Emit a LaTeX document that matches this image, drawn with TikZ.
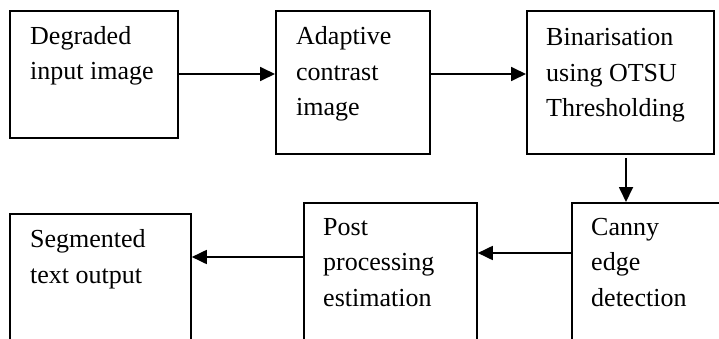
\documentclass[tikz,border=0pt]{standalone}
\usepackage{fontspec}
\setmainfont{Liberation Serif}
\usetikzlibrary{arrows.meta}
\begin{document}
\begin{tikzpicture}[x=1pt,y=-1pt,
  box/.style={draw,line width=1.8pt,rectangle,inner sep=0pt,anchor=north west},
  lbl/.style={anchor=base west,inner sep=0pt,align=left,font=\fontsize{26}{35.5}\selectfont},
  conn/.style={line width=1.8pt,-{Triangle[length=15pt,width=14pt]}}]
\useasboundingbox (0,0) rectangle (719,339);
% boxes
\node[box,minimum width=168pt,minimum height=127pt] (b1) at (9,10) {};
\node[box,minimum width=154pt,minimum height=143pt] (b2) at (275,10) {};
\node[box,minimum width=187pt,minimum height=143pt] (b3) at (526,10) {};
\node[box,minimum width=190pt,minimum height=160pt] (b4) at (571,202) {};
\node[box,minimum width=173pt,minimum height=160pt] (b5) at (303,202) {};
\node[box,minimum width=181pt,minimum height=150pt] (b6) at (9,213) {};
% labels (anchored at the baseline of the last line)
\node[lbl] (t1) at (30,80) {Degraded\\input image};
\node[lbl] (t2) at (296,116) {Adaptive\\contrast\\image};
\node[lbl] (t3) at (546,117) {Binarisation\\using OTSU\\Thresholding};
\node[lbl] (t4) at (591,306) {Canny\\edge\\detection};
\node[lbl] (t5) at (323,306) {Post\\processing\\estimation};
\node[lbl] (t6) at (30,283) {Segmented\\text output};
% connectors
\coordinate (a1) at (177,74);
\coordinate (a2) at (429,74);
\draw[conn] (a1) -- (a1 -| b2.west);
\draw[conn] (a2) -- (a2 -| b3.west);
\coordinate (a3) at (626,158);
\draw[conn] (a3) -- (a3 |- b4.north);
\coordinate (a4) at (571,253);
\draw[conn] (a4) -- (a4 -| b5.east);
\coordinate (a5) at (303,257);
\draw[conn] (a5) -- (a5 -| b6.east);
\end{tikzpicture}
\end{document}
